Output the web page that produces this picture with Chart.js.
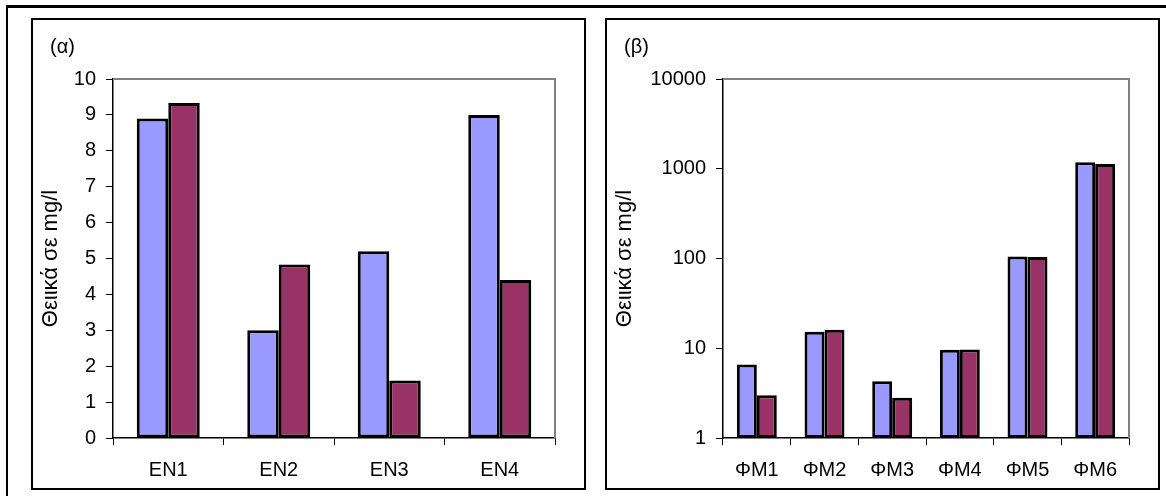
<!DOCTYPE html>
<html><head><meta charset="utf-8">
<script src="https://cdn.jsdelivr.net/npm/chart.js@4/dist/chart.umd.min.js"></script>
<style>
html,body{margin:0;padding:0;background:#fff;width:1166px;height:496px;overflow:hidden;position:relative;font-family:"Liberation Sans",Arial,sans-serif;}
.frameTop{position:absolute;left:6px;top:5px;width:1170px;height:3px;background:#000;}
.frameLeft{position:absolute;left:6px;top:5px;width:2px;height:500px;background:#000;}
.panel{position:absolute;top:18px;width:555px;height:472px;border:2px solid #000;box-sizing:border-box;}
.panel canvas{position:absolute;left:0;top:0;}
.lbl{position:absolute;top:34px;font-size:20px;line-height:24px;color:#000;}
</style></head>
<body>
<div class="frameTop"></div><div class="frameLeft"></div>
<div class="panel" style="left:31px"><div style="position:absolute;left:0;top:0;width:551px;height:468px"><canvas id="ca"></canvas></div></div>
<div class="panel" style="left:605px"><div style="position:absolute;left:0;top:0;width:551px;height:468px"><canvas id="cb"></canvas></div></div>
<div class="lbl" style="left:50px">(α)</div>
<div class="lbl" style="left:624px">(β)</div>
<script>
const categoriesA = ['ΕΝ1','ΕΝ2','ΕΝ3','ΕΝ4'];
const seriesA1 = [8.9, 3.0, 5.2, 9.0];
const seriesA2 = [9.33, 4.83, 1.6, 4.4];
const categoriesB = ['ΦΜ1','ΦΜ2','ΦΜ3','ΦΜ4','ΦΜ5','ΦΜ6'];
const seriesB1 = [6.6, 15.3, 4.3, 9.6, 105, 1180];
const seriesB2 = [3.0, 16.1, 2.8, 9.7, 104, 1130];
const ticksB = [1, 10, 100, 1000, 10000];
const yTitle = 'Θειικά σε mg/l';

const FONT = "'Liberation Sans', Arial, sans-serif";
const plotBorder = {
  id: 'plotBorder',
  beforeDatasetsDraw(chart) {
    const {ctx, chartArea: a} = chart;
    ctx.save();
    ctx.strokeStyle = '#808080';
    ctx.lineWidth = 2;
    ctx.beginPath();
    ctx.moveTo(a.left, a.top); ctx.lineTo(a.right, a.top); ctx.lineTo(a.right, a.bottom);
    ctx.stroke();
    ctx.restore();
  }
};

function makeChart(id, cats, s1, s2, yScale, yWidth, catPct) {
  return new Chart(document.getElementById(id), {
    type: 'bar',
    data: {
      labels: cats,
      datasets: [
        {data: s1, backgroundColor: '#9999FF', borderColor: '#000', borderWidth: 3, borderSkipped: false},
        {data: s2, backgroundColor: '#993366', borderColor: '#000', borderWidth: 3, borderSkipped: false}
      ]
    },
    options: {
      responsive: true, maintainAspectRatio: false, animation: false,
      layout: {padding: {left: 0, top: 59, right: 29, bottom: 0}},
      plugins: {legend: {display: false}, tooltip: {enabled: false}},
      datasets: {bar: {categoryPercentage: catPct, barPercentage: 1}},
      scales: {
        x: {
          grid: {display: true, offset: true, drawOnChartArea: false, tickLength: 7, color: '#000', lineWidth: 1},
          border: {color: '#000', width: 1.5},
          ticks: {color: '#000', font: {family: FONT, size: 20}, padding: 13, maxRotation: 0},
          afterFit(s) { s.height = 50; }
        },
        y: Object.assign({
          grid: {display: true, drawOnChartArea: false, tickLength: 7, color: '#000', lineWidth: 1},
          border: {color: '#000', width: 1.5},
          title: {display: true, text: yTitle, color: '#000', font: {family: FONT, size: 22}, padding: {top: 5, bottom: 0}},
          afterFit(s) { s.width = yWidth; }
        }, yScale)
      }
    },
    plugins: [plotBorder]
  });
}

makeChart('ca', categoriesA, seriesA1, seriesA2, {
  type: 'linear', min: 0, max: 10,
  ticks: {stepSize: 1, color: '#000', font: {family: FONT, size: 20}, padding: 10}
}, 80, 0.57);

makeChart('cb', categoriesB, seriesB1, seriesB2, {
  type: 'logarithmic', min: 1, max: 10000,
  afterBuildTicks(s) { s.ticks = ticksB.map(v => ({value: v, major: true})); },
  ticks: {color: '#000', font: {family: FONT, size: 20}, padding: 10, callback: v => String(v)}
}, 116, 0.59);
</script>
</body></html>
